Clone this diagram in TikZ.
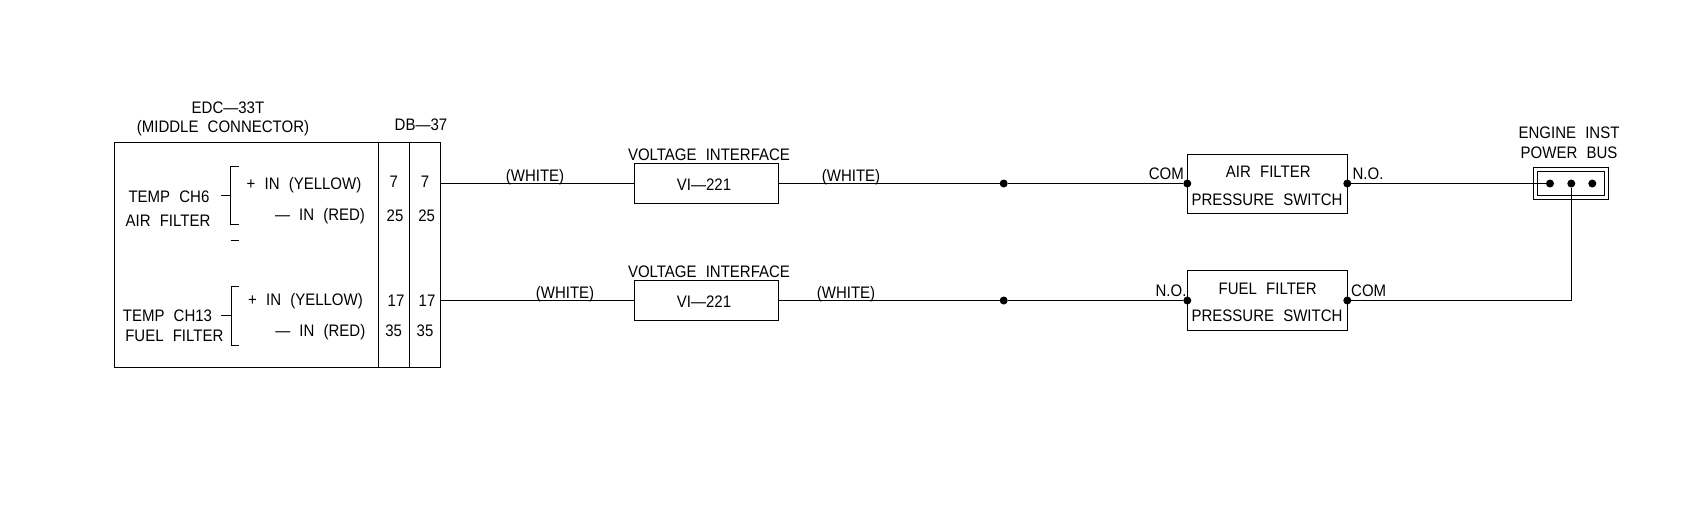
\documentclass[tikz,border=0pt]{standalone}
\usepackage{fontspec}
\setmainfont[FakeStretch=0.9,WordSpace=2.2]{Liberation Sans}
\tikzset{
  x=0.75pt,y=-0.75pt,
  every node/.style={inner sep=0pt,outer sep=0pt},
  boxed/.style={draw=black,line width=0.9pt,rectangle,fill=none},
  lbl/.style={anchor=base,font=\fontsize{12.5pt}{14pt}\selectfont,text=black},
  wire/.style={draw=black,line width=0.9pt},
  dot/.style={circle,fill=black,minimum size=6pt},
}
\begin{document}
\begin{tikzpicture}
\useasboundingbox (0,0) rectangle (1696,504);
% connector block
\node[boxed,minimum width=198pt,minimum height=168.75pt] (edc) at (246.5,254.8) {};
\node[boxed,minimum width=23.25pt,minimum height=168.75pt] (dba) at (394,254.8) {};
\node[boxed,minimum width=23.25pt,minimum height=168.75pt] (dbb) at (425,254.8) {};
\node[lbl] (edct) at (228,113) {EDC—33T};
\node[lbl] (edcs) at (223,132) {(MIDDLE CONNECTOR)};
\node[lbl] (dbt) at (421,130) {DB—37};
\node[lbl] (tc6) at (169,202.7) {TEMP CH6};
\node[lbl] (af) at (168,226) {AIR FILTER};
\node[lbl] (tc13) at (167.5,321.7) {TEMP CH13};
\node[lbl] (ff) at (174.3,341.7) {FUEL FILTER};
\node[lbl] (y1) at (304,189.7) {+ IN (YELLOW)};
\node[lbl] (r1) at (320,220.7) {— IN (RED)};
\node[lbl] (y2) at (305.5,305.3) {+ IN (YELLOW)};
\node[lbl] (r2) at (320.3,336) {— IN (RED)};
\node[lbl] (n7a) at (393.7,187.7) {7};
\node[lbl] (n7b) at (425,187.7) {7};
\node[lbl] (n25a) at (395,221) {25};
\node[lbl] (n25b) at (426.7,221) {25};
\node[lbl] (n17a) at (396,306.7) {17};
\node[lbl] (n17b) at (427,306.7) {17};
\node[lbl] (n35a) at (393.7,336) {35};
\node[lbl] (n35b) at (425,336) {35};
% brackets
\draw[wire] (238.7,166.5) -- (230.5,166.5) -- (230.5,224.5) -- (238.7,224.5);
\draw[wire] (221,195.5) -- (230.5,195.5);
\draw[wire] (230.5,240.5) -- (238.7,240.5);
\draw[wire] (239,286.5) -- (231.5,286.5) -- (231.5,345.5) -- (239,345.5);
\draw[wire] (221,315.5) -- (231.5,315.5);
% pins on block
\coordinate (p7) at (440.5,183.5);
\coordinate (p17) at (440.5,300.5);
% interfaces
\node[boxed,minimum width=108pt,minimum height=30pt] (via) at (706.3,183.5) {};
\node[boxed,minimum width=108pt,minimum height=30pt] (vib) at (706.3,300.5) {};
\node[lbl] (via1) at (709,160) {VOLTAGE INTERFACE};
\node[lbl] (vib1) at (709,277) {VOLTAGE INTERFACE};
\node[lbl] (via2) at (704,190) {VI—221};
\node[lbl] (vib2) at (704,307.5) {VI—221};
% junctions
\node[dot] (ja) at (1003.7,183.5) {};
\node[dot] (jb) at (1003.7,300.5) {};
% switches
\node[boxed,minimum width=120pt,minimum height=44.25pt] (swa) at (1267.3,184) {};
\node[boxed,minimum width=120pt,minimum height=45pt] (swb) at (1267.3,300.5) {};
\node[lbl] (swa1) at (1268.3,177.7) {AIR FILTER};
\node[lbl] (swa2) at (1267,205.3) {PRESSURE SWITCH};
\node[lbl] (swb1) at (1267.7,294.3) {FUEL FILTER};
\node[lbl] (swb2) at (1267,321) {PRESSURE SWITCH};
\node[dot] (ca) at (1187.3,183.5) {};
\node[dot] (na) at (1347.3,183.5) {};
\node[dot] (nb) at (1187.3,300.5) {};
\node[dot] (cb) at (1347.3,300.5) {};
\node[lbl] (ca1) at (1166.3,179.3) {COM};
\node[lbl] (na1) at (1368,179.3) {N.O.};
\node[lbl] (nb1) at (1171,296.7) {N.O.};
\node[lbl] (cb1) at (1368.7,296.7) {COM};
% bus
\node[boxed,minimum width=56.5pt,minimum height=24pt] (busa) at (1571,183.5) {};
\node[boxed,minimum width=50.5pt,minimum height=18pt] (busb) at (1571,183.5) {};
\node[dot] (ba) at (1550,183.5) {};
\node[dot] (bb) at (1571.3,183.5) {};
\node[dot] (bc) at (1592.3,183.5) {};
\node[lbl] (bt1) at (1569,138.7) {ENGINE INST};
\node[lbl] (bt2) at (1569,158.7) {POWER BUS};
% wire labels
\node[lbl] (wa) at (535,181) {(WHITE)};
\node[lbl] (wb) at (851,181) {(WHITE)};
\node[lbl] (wc) at (565,298.3) {(WHITE)};
\node[lbl] (wd) at (846,298.3) {(WHITE)};
% wires
\draw[wire] (p7) -- (via);
\draw[wire] (via) -- (ja);
\draw[wire] (ja) -- (ca);
\draw[wire] (na) -- (ba);
\draw[wire] (p17) -- (vib);
\draw[wire] (vib) -- (jb);
\draw[wire] (jb) -- (nb);
\draw[wire] (cb) -| (bb);
\end{tikzpicture}
\end{document}
